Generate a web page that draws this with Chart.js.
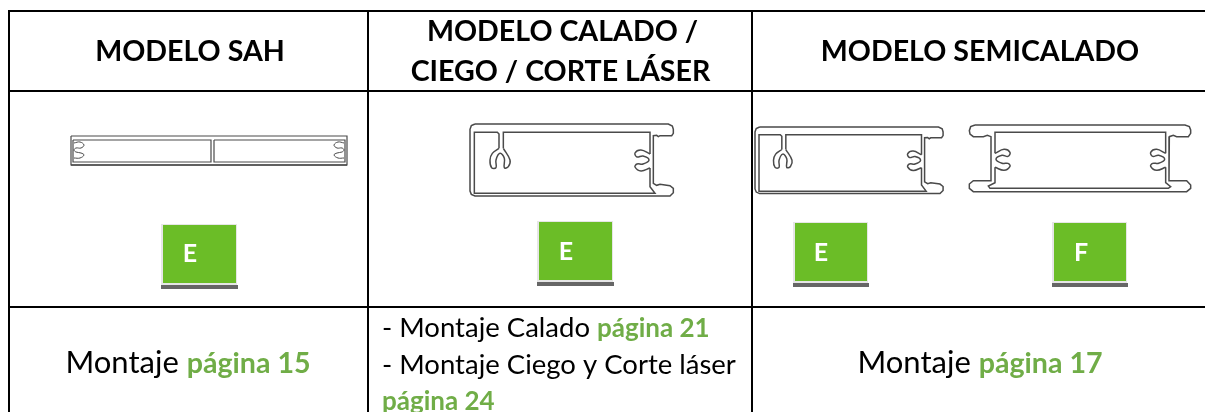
<!DOCTYPE html>
<html><head><meta charset="utf-8">
<script src="https://cdn.jsdelivr.net/npm/chart.js@4"></script>
<style>html,body{margin:0;padding:0;background:#fff;overflow:hidden}#w{width:1205px;height:412px}</style>
</head><body><div id="w"><canvas id="c"></canvas></div>
<script>
// table content
const headers = ["MODELO SAH", "MODELO CALADO /", "CIEGO / CORTE LÁSER", "MODELO SEMICALADO"];
const badges = ["E", "E", "E", "F"];
const montaje = "Montaje ";
const pages = ["página 15", "página 21", "página 24", "página 17"];
// table rules
const ruleV = [[9,10,412],[368,10,412],[752,10,412]];
const ruleH = [[8,1205,11],[8,1205,91],[8,1205,307]];
// badges: left,right,top,bottom
const badgeBoxes = [[163,236,225,283],[539,612,222,280],[795,867,223,281],[1054,1126,223,281]];
// profile shapes, local units; straight runs
const calOuter = [[105,102],[685,102],[697,108],[700,118],[700,130],[695,137],[660,137],[655,140],[650,136],[640,137],[640,280],[650,286],[660,283],[690,287],[700,295],[700,308],[690,318],[105,318],[94,313],[90,303],[90,118],[94,107],[105,102]];
const calWallA = [[177,175],[177,132],[172,127],[103,127],[103,310],[645,310],[630,290],[630,234]];
const calWallB = [[190,175],[190,127],[630,127],[630,192]];
// curved clips
const calClaw = [[177,175],[157,190],[150,210],[155,233],[168,233],[168,210],[180,190],[193,205],[193,233],[205,230],[210,210],[190,175]];
const calRing = [[630,192],[603,180],[585,189],[591,201],[609,198],[627,210],[609,222],[591,222],[585,231],[603,243],[630,234]];
const fOuter = [[675,105],[1305,105],[1318,110],[1322,120],[1322,130],[1315,140],[1280,140],[1270,136],[1258,140],[1257,140],[1257,272],[1310,272],[1322,285],[1322,295],[1310,305],[670,305],[658,295],[658,282],[670,272],[723,272],[723,140],[712,136],[700,140],[670,140],[660,132],[658,122],[662,110],[675,105]];
const fWallA = [[735,190],[735,127],[1247,127],[1247,190]];
const fWallB = [[1247,232],[1247,278],[1262,290],[1255,295],[720,295],[715,288],[735,278],[735,232]];
const fRingR = [[1247,190],[1220,178],[1202,187],[1208,199],[1226,196],[1244,208],[1226,220],[1208,220],[1202,229],[1220,241],[1247,232]];
const fRingL = [[735,190],[762,178],[780,187],[774,199],[756,196],[738,208],[756,220],[774,220],[780,229],[762,241],[735,232]];
const sahOuter = [[71,136],[347,136],[347,165],[71,165],[71,136]];
const sahInnerL = [[73,140],[211,140],[211,162],[73,162],[73,140]];
const sahInnerR = [[214,140],[345,140],[345,162],[214,162],[214,140]];
const sahClipL = [[74,143],[80,142],[84,145],[81,148],[76,148],[74,150],[76,152],[81,153],[84,155],[80,158],[74,158]];
const sahClipR = [[344,143],[338,142],[334,145],[337,148],[342,148],[344,150],[342,152],[337,153],[334,155],[338,158],[344,158]];
const sahBase = [[71,165],[347,165]];

const place = (s,ox,oy,k) => s.map(p => ({x:ox+p[0]*k, y:oy+p[1]*k}));
const raw = s => s.map(p => ({x:p[0], y:p[1]}));
const ds = [];
const line = (data,color,w,tension) => ds.push({type:'scatter',data,showLine:true,borderColor:color,borderWidth:w,pointRadius:0,fill:false,tension:tension||0,order:1});
const area = (data,color,order) => ds.push({type:'scatter',data,showLine:true,borderColor:color,backgroundColor:color,borderWidth:0,pointRadius:0,fill:'shape',tension:0,order});
const rect = (l,r,t,u,color,order) => area([{x:l,y:t},{x:r,y:t},{x:r,y:u},{x:l,y:u},{x:l,y:t}],color,order);

ruleV.forEach(r => line([{x:r[0],y:r[1]},{x:r[0],y:r[2]}],'#000',2));
ruleH.forEach(r => line([{x:r[0],y:r[2]},{x:r[1],y:r[2]}],'#000',2));
const P = '#4a4a4a';
[sahOuter,sahInnerL,sahInnerR].forEach(s => line(raw(s),P,1.2));
[sahClipL,sahClipR].forEach(s => line(raw(s),P,1,0.4));
line(raw(sahBase),'#777',2);
[[440,90,1/3],[755-90*0.925/3,127-102*0.925/3,0.925/3]].forEach(t => {
  const [ox,oy,k] = t;
  [calOuter,calWallA,calWallB].forEach(s => line(place(s,ox,oy,k),P,1.5));
  [calClaw,calRing].forEach(s => line(place(s,ox,oy,k),P,1.5,0.4));
});
[fOuter,fWallA,fWallB].forEach(s => line(place(s,750,90,1/3),P,1.5));
[fRingR,fRingL].forEach(s => line(place(s,750,90,1/3),P,1.5,0.4));
badgeBoxes.forEach(b => {
  const [l,r,t,u] = b;
  rect(l-2,r+2,u+2,u+6,'#666',3);
  rect(l-2,r+1,t-1,u+2,'#e6e6e6',4);
  rect(l,r,t,u,'#6bbd27',2);
});

const FF = 'Lato, sans-serif';
const H = 'bold 28.6px '+FF, E='bold 25px '+FF, G='#70ad47', K='#000';
const B1 = '31px '+FF, G1 = 'bold 28.6px '+FF, B2 = '27.5px '+FF, G2 = 'bold 26px '+FF;
const texts = [
  {c:190,y:61,runs:[[headers[0],H,K]]},
  {c:562.5,y:41,runs:[[headers[1],H,K]]},
  {c:560.5,y:81,runs:[[headers[2],H,K]]},
  {c:980,y:61,runs:[[headers[3],H,K]]},
  {c:190,y:262,runs:[[badges[0],E,'#fff']]},
  {c:566,y:260,runs:[[badges[1],E,'#fff']]},
  {c:821,y:261,runs:[[badges[2],E,'#fff']]},
  {c:1081,y:261,runs:[[badges[3],E,'#fff']]},
  {c:188,y:373,runs:[[montaje,B1,K],[pages[0],G1,G]]},
  {l:382,y:337,runs:[["- "+montaje+"Calado ",B2,K],[pages[1],G2,G]]},
  {l:382,y:374,runs:[["- "+montaje+"Ciego y Corte láser",B2,K]]},
  {l:382,y:410,runs:[[pages[2],G2,G]]},
  {c:980,y:373,runs:[[montaje,B1,K],[pages[3],G1,G]]}
];
const textPlugin = {id:'tx',afterDatasetsDraw(ch){
  const g=ch.ctx,X=ch.scales.x,Y=ch.scales.y;
  g.save();g.textBaseline='alphabetic';g.textAlign='left';
  texts.forEach(t=>{
    let w=0;t.runs.forEach(r=>{g.font=r[1];w+=g.measureText(r[0]).width;});
    let x=t.l!==undefined?t.l:t.c-w/2;
    t.runs.forEach(r=>{g.font=r[1];g.fillStyle=r[2];g.fillText(r[0],X.getPixelForValue(x),Y.getPixelForValue(t.y));x+=g.measureText(r[0]).width;});
  });
  g.restore();
}};
new Chart(document.getElementById('c'),{
  type:'scatter',
  data:{datasets:ds},
  plugins:[textPlugin],
  options:{responsive:true,maintainAspectRatio:false,animation:false,
    layout:{padding:0},
    plugins:{legend:{display:false},tooltip:{enabled:false},title:{display:false}},
    scales:{
      x:{type:'linear',min:0,max:1205,display:false},
      y:{type:'linear',min:0,max:412,reverse:true,display:false}
    }}
});
</script></body></html>
